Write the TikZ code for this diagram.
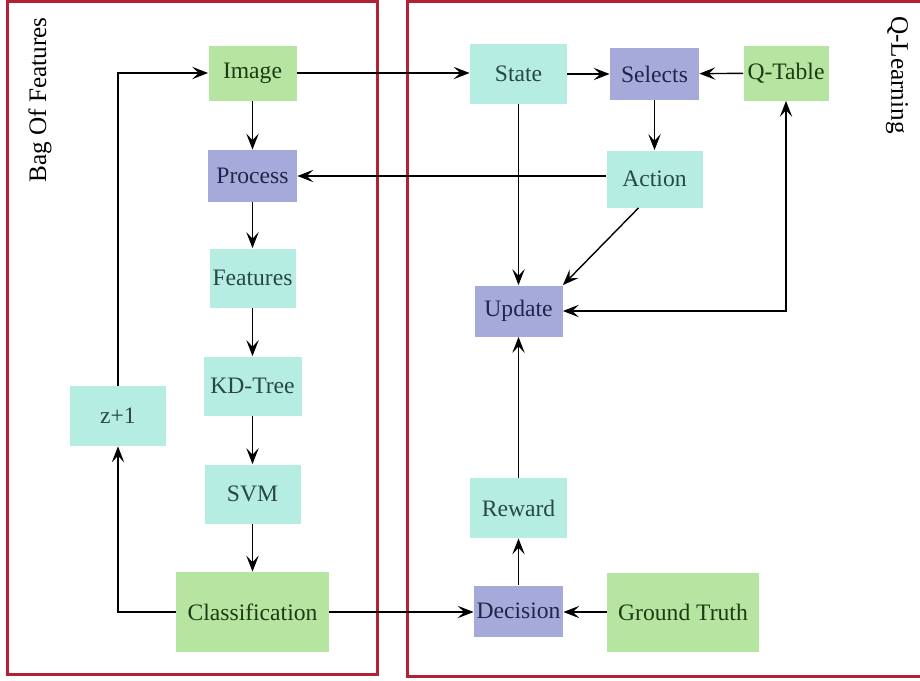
\documentclass[tikz,border=0pt]{standalone}
\usepackage{fontspec}
\setmainfont{Liberation Serif}
\usetikzlibrary{arrows.meta}

\definecolor{frameRed}{RGB}{178,34,52}
\definecolor{grnFill}{RGB}{181,229,160}
\definecolor{grnText}{RGB}{30,58,20}
\definecolor{bluFill}{RGB}{166,170,219}
\definecolor{bluText}{RGB}{31,38,72}
\definecolor{tealFill}{RGB}{182,237,227}
\definecolor{tealText}{RGB}{40,72,70}

\begin{document}
\begin{tikzpicture}[x=0.5pt,y=-0.5pt,
  box/.style={rectangle,inner sep=0pt,font=\fontsize{11.8}{14}\selectfont},
  greenbox/.style={box,fill=grnFill,text=grnText},
  bluebox/.style={box,fill=bluFill,text=bluText},
  tealbox/.style={box,fill=tealFill,text=tealText},
  tip/.tip={Stealth[length=8pt,width=6.2pt,inset=3.3pt]},
  flow/.style={line width=0.7pt,-tip},
  twoway/.style={line width=0.7pt,tip-tip},
  frame/.style={draw=frameRed,line width=1.5pt},
  side/.style={font=\fontsize{12.6}{14}\selectfont}]

\useasboundingbox (0,0) rectangle (920,680);

% the two panels
\begin{scope}
  \clip (0,0) rectangle (920,680);
  \draw[frame] (7,1) rectangle (377,674);
  \draw[frame] (407,1) rectangle (940,676);
\end{scope}

\node[side,rotate=90] (bofLabel) at (40,100) {Bag Of Features};
\node[side,rotate=-90] (qlLabel) at (897,75) {Q-Learning};

% Bag of Features pipeline
\node[greenbox,minimum width=44pt,minimum height=27.5pt] (img) at (252.5,73) {Image};
\node[bluebox,minimum width=44.5pt,minimum height=26pt] (proc) at (252.5,176) {Process};
\node[tealbox,minimum width=43pt,minimum height=29.5pt] (feat) at (252.5,278) {Features};
\node[tealbox,minimum width=49pt,minimum height=29.5pt] (kdt) at (252.5,386) {KD-Tree};
\node[tealbox,minimum width=48pt,minimum height=29.5pt] (svm) at (252.5,494) {SVM};
\node[greenbox,minimum width=76.5pt,minimum height=40pt] (cls) at (252.5,612) {Classification};
\node[tealbox,minimum width=48pt,minimum height=30pt] (zinc) at (118,416) {z+1};

% Q-Learning part
\node[tealbox,minimum width=48.5pt,minimum height=30pt] (state) at (518.5,74) {State};
\node[bluebox,minimum width=44.5pt,minimum height=26pt] (sel) at (654.5,74) {Selects};
\node[greenbox,minimum width=42.5pt,minimum height=27.5pt] (qtab) at (786,73) {Q-Table};
\node[tealbox,minimum width=48pt,minimum height=28.5pt] (act) at (654.5,179) {Action};
\node[bluebox,minimum width=44pt,minimum height=25.5pt] (upd) at (518.5,311) {Update};
\node[tealbox,minimum width=48.5pt,minimum height=30pt] (rew) at (518.5,508) {Reward};
\node[bluebox,minimum width=44.5pt,minimum height=25.5pt] (dec) at (518.5,611) {Decision};
\node[greenbox,minimum width=76pt,minimum height=39.5pt] (gt) at (683,612) {Ground Truth};

% connectors
\draw[flow] (img) -- (proc);
\draw[flow] (proc) -- (feat);
\draw[flow] (feat) -- (kdt);
\draw[flow] (kdt) -- (svm);
\draw[flow] (svm) -- (cls);
\draw[flow] (zinc.north) |- (img.west);
\draw[flow] (cls.west) -| (zinc.south);
\draw[flow] (img.east) -- (state.west |- img.east);
\draw[flow] (cls.east) -- (dec.west |- cls.east);
\draw[flow] (gt.west) -- (dec.east |- gt.west);
\draw[flow] (state) -- (sel);
\draw[flow] (qtab) -- (sel);
\draw[flow] (sel) -- (act);
\draw[flow] (act.west |- proc.east) -- (proc.east);
\draw[flow] (state) -- (upd);
\draw[flow] ([xshift=-8pt]act.south) -- (upd.north east);
\draw[twoway] (upd.east) -| (qtab.south);
\draw[flow] (dec) -- (rew);
\draw[flow] (rew) -- (upd);

\end{tikzpicture}
\end{document}
